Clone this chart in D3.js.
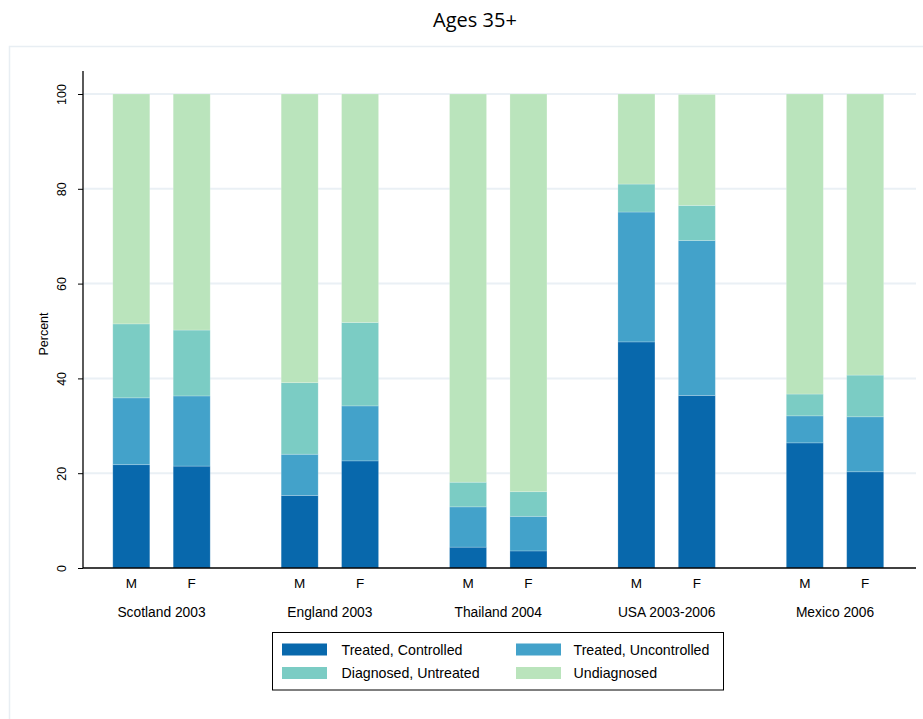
<!DOCTYPE html>
<html>
<head>
<meta charset="utf-8">
<script src="https://cdn.jsdelivr.net/npm/d3@7"></script>
<style>
  html, body { margin: 0; padding: 0; background: #fff; }
  svg { display: block; }
</style>
</head>
<body>
<svg id="chart" width="923" height="719"></svg>
<script>
// Hypertension care cascade, ages 35+, by survey and sex
const countries = ["Scotland 2003", "England 2003", "Thailand 2004", "USA 2003-2006", "Mexico 2006"];
const sexes = ["M", "F"];
const stages = ["Treated, Controlled", "Treated, Uncontrolled", "Diagnosed, Untreated", "Undiagnosed"];

// Percent in each stage, one entry per country, [M, F]
const treatedControlled   = [[21.8, 21.5], [15.3, 22.6], [4.4, 3.6], [47.7, 36.4], [26.4, 20.3]];
const treatedUncontrolled = [[14.1, 14.8], [8.7, 11.6], [8.5, 7.3], [27.4, 32.7], [5.7, 11.6]];
const diagnosedUntreated  = [[15.6, 13.9], [15.1, 17.6], [5.2, 5.2], [5.9, 7.4], [4.6, 8.8]];
const undiagnosed         = [[48.5, 49.8], [60.9, 48.2], [81.9, 83.9], [19.0, 23.4], [63.3, 59.3]];

const yTicks = [0, 20, 40, 60, 80, 100];
const colors = ["#0868ac", "#43a2ca", "#7bccc4", "#bae4bc"];

const seriesValues = [treatedControlled, treatedUncontrolled, diagnosedUntreated, undiagnosed];

// Flat table of rows, one per bar
const rows = [];
countries.forEach((c, ci) => {
  sexes.forEach((s, si) => {
    const row = { country: c, sex: s };
    stages.forEach((st, k) => { row[st] = seriesValues[k][ci][si]; });
    rows.push(row);
  });
});

const svg = d3.select("#chart");
const font = "'Liberation Sans', Arial, sans-serif";

// Outer frame of the graph region
svg.append("rect")
  .attr("x", 9.5).attr("y", 46.5)
  .attr("width", 930).attr("height", 700)
  .attr("fill", "none")
  .attr("stroke", "#e8eef3")
  .attr("stroke-width", 1.5);

svg.append("text")
  .attr("x", 475).attr("y", 27)
  .attr("text-anchor", "middle")
  .attr("font-family", "'Open Sans', sans-serif")
  .attr("font-size", 20)
  .attr("fill", "#000")
  .text("Ages 35+");

const plotLeft = 83, plotRight = 916, plotTop = 71, plotBottom = 568;

const y = d3.scaleLinear().domain([0, 100]).range([plotBottom, 94]);
const xGroup = d3.scalePoint().domain(countries).range([161.5, 835]);
const xSex = d3.scalePoint().domain(sexes).range([-30.2, 30.2]);
const barW = 37;

// Gridlines
svg.append("g")
  .selectAll("line")
  .data(yTicks.filter(t => t > 0))
  .join("line")
  .attr("x1", plotLeft).attr("x2", plotRight)
  .attr("y1", d => y(d)).attr("y2", d => y(d))
  .attr("stroke", "#eaf0f5")
  .attr("stroke-width", 2);

// Stacked bars
const stack = d3.stack().keys(stages);
const layers = stack(rows);

svg.append("g")
  .selectAll("g")
  .data(layers)
  .join("g")
  .attr("fill", (d, i) => colors[i])
  .selectAll("rect")
  .data(d => d)
  .join("rect")
  .attr("x", d => xGroup(d.data.country) + xSex(d.data.sex) - barW / 2)
  .attr("width", barW)
  .attr("y", d => y(d[1]))
  .attr("height", d => y(d[0]) - y(d[1]))
  .attr("stroke", "rgba(255,255,255,0.25)")
  .attr("stroke-width", 0.8);

// Y axis ticks and rotated labels
const yAxis = d3.axisLeft(y).tickValues(yTicks).tickSize(5).tickPadding(8);
const gy = svg.append("g")
  .attr("transform", `translate(${plotLeft},0)`)
  .call(yAxis);
gy.select(".domain").remove();
gy.selectAll(".tick line").attr("stroke", "#000");
gy.selectAll(".tick text")
  .attr("font-family", font)
  .attr("font-size", 12.5)
  .attr("fill", "#000")
  .attr("text-anchor", "middle")
  .attr("transform", "translate(-21,0) rotate(-90)")
  .attr("x", 0).attr("y", 0).attr("dy", "0.35em");

svg.append("line")
  .attr("x1", plotLeft).attr("x2", plotLeft)
  .attr("y1", plotTop).attr("y2", plotBottom)
  .attr("stroke", "#000").attr("stroke-width", 1.3);

// X axis line
svg.append("line")
  .attr("x1", plotLeft).attr("x2", plotRight)
  .attr("y1", plotBottom).attr("y2", plotBottom)
  .attr("stroke", "#000").attr("stroke-width", 1.3);

svg.append("text")
  .attr("transform", `translate(48,${(y(0) + y(100)) / 2 + 3}) rotate(-90)`)
  .attr("text-anchor", "middle")
  .attr("font-family", font)
  .attr("font-size", 12.5)
  .text("Percent");

// Sex labels under each bar
svg.append("g")
  .selectAll("text")
  .data(rows)
  .join("text")
  .attr("x", d => xGroup(d.country) + xSex(d.sex))
  .attr("y", 588)
  .attr("text-anchor", "middle")
  .attr("font-family", font)
  .attr("font-size", 13.5)
  .text(d => d.sex);

// Country labels
svg.append("g")
  .selectAll("text")
  .data(countries)
  .join("text")
  .attr("x", d => xGroup(d))
  .attr("y", 617)
  .attr("text-anchor", "middle")
  .attr("font-family", font)
  .attr("font-size", 13.8)
  .text(d => d);

// Legend
const legend = svg.append("g");
legend.append("rect")
  .attr("x", 272.5).attr("y", 632.5)
  .attr("width", 451).attr("height", 57.5)
  .attr("fill", "#fff").attr("stroke", "#000").attr("stroke-width", 1);

const legX = [282, 516];
const legTextX = [341.5, 573.5];
const legY = [643.5, 667];
stages.forEach((s, i) => {
  const col = i % 2, row = Math.floor(i / 2);
  legend.append("rect")
    .attr("x", legX[col]).attr("y", legY[row])
    .attr("width", 45).attr("height", 12)
    .attr("fill", colors[i]);
  legend.append("text")
    .attr("x", legTextX[col]).attr("y", legY[row] + 11)
    .attr("font-family", font)
    .attr("font-size", 14.2)
    .text(s);
});
</script>
</body>
</html>
